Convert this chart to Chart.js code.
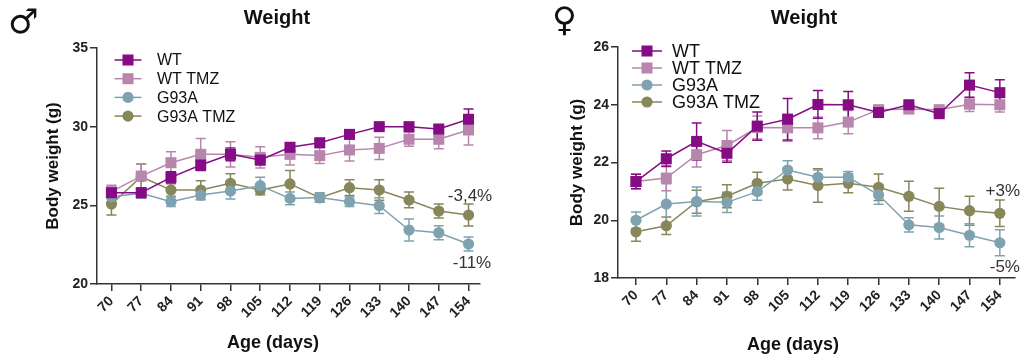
<!DOCTYPE html>
<html><head><meta charset="utf-8">
<script src="https://cdn.jsdelivr.net/npm/chart.js@4"></script>
<style>
html,body{margin:0;padding:0;background:#fff;}
#wrap{position:relative;width:1024px;height:357px;overflow:hidden;background:#fff;}
.c{position:absolute;top:0;width:512px;height:357px;}
.sym{position:absolute;font-family:"DejaVu Sans",sans-serif;color:#111;line-height:1;}
</style></head><body>
<div id="wrap">
<div class="c" style="left:0"><canvas id="male" width="512" height="357"></canvas></div>
<div class="c" style="left:512px"><canvas id="female" width="512" height="357"></canvas></div>
<span class="sym" style="left:8px;top:4px;font-size:34px">♂</span>
<span class="sym" style="left:552px;top:2px;font-size:34px">♀</span>
</div>
<script>
// ---- data ----
const days = [70, 77, 84, 91, 98, 105, 112, 119, 126, 133, 140, 147, 154];
const seriesNames = ['WT', 'WT TMZ', 'G93A', 'G93A TMZ'];

const maleWT       = [25.8, 25.8, 26.78, 27.56, 28.24, 27.88, 28.69, 28.98, 29.51, 30.0, 30.0, 29.85, 30.47];
const maleWTErr    = [0.2, 0.3, 0.35, 0.35, 0.4, 0.3, 0.2, 0.15, 0.15, 0.1, 0.1, 0.2, 0.65];
const maleWTTMZ    = [25.87, 26.86, 27.71, 28.24, 28.24, 28.05, 28.24, 28.16, 28.52, 28.62, 29.2, 29.2, 29.79];
const maleWTTMZErr = [0.4, 0.76, 0.7, 1.0, 0.8, 0.68, 0.68, 0.5, 0.7, 0.7, 0.45, 0.6, 0.95];
const maleG93A     = [25.55, 25.76, 25.23, 25.65, 25.91, 26.25, 25.44, 25.5, 25.23, 24.98, 23.43, 23.26, 22.54];
const maleG93AErr  = [0.4, 0.3, 0.3, 0.3, 0.5, 0.53, 0.4, 0.3, 0.3, 0.5, 0.7, 0.45, 0.45];
const maleG93ATMZ    = [25.08, 26.82, 25.97, 25.97, 26.4, 25.97, 26.36, 25.48, 26.12, 25.97, 25.34, 24.64, 24.38];
const maleG93ATMZErr = [0.7, 0.8, 0.4, 0.6, 0.6, 0.3, 0.85, 0.25, 0.5, 0.65, 0.5, 0.45, 0.7];

const femaleWT       = [21.34, 22.13, 22.73, 22.32, 23.26, 23.5, 24.01, 24.0, 23.73, 24.0, 23.69, 24.68, 24.42];
const femaleWTErr    = [0.25, 0.27, 0.64, 0.31, 0.49, 0.72, 0.48, 0.46, 0.1, 0.1, 0.1, 0.43, 0.45];
const femaleWTTMZ    = [21.34, 21.46, 22.27, 22.59, 23.21, 23.2, 23.2, 23.4, 23.83, 23.85, 23.83, 24.02, 24.0];
const femaleWTTMZErr = [0.25, 0.44, 0.43, 0.52, 0.4, 0.46, 0.38, 0.4, 0.1, 0.1, 0.1, 0.25, 0.25];
const femaleG93A     = [20.0, 20.56, 20.65, 20.62, 20.99, 21.74, 21.49, 21.49, 20.88, 19.84, 19.75, 19.48, 19.22];
const femaleG93AErr  = [0.29, 0.7, 0.5, 0.35, 0.3, 0.32, 0.25, 0.2, 0.33, 0.25, 0.4, 0.4, 0.45];
const femaleG93ATMZ    = [19.6, 19.81, 20.64, 20.83, 21.28, 21.43, 21.2, 21.28, 21.14, 20.83, 20.48, 20.33, 20.24];
const femaleG93ATMZErr = [0.33, 0.3, 0.4, 0.4, 0.38, 0.38, 0.58, 0.33, 0.46, 0.52, 0.63, 0.5, 0.46];

const maleNoteTexts = ['-3,4%', '-11%'];
const femaleNoteTexts = ['+3%', '-5%'];
const chartTitle = 'Weight';
const yTitle = 'Body weight (g)';
const xTitle = 'Age (days)';

// ---- style ----
const FONT = '"Liberation Sans", Arial, sans-serif';
const colors = ['#850c85', '#b886ad', '#7fa2b1', '#87875a'];
const styles = ['rect', 'rect', 'circle', 'circle'];

function makeDatasets(vals, errs) {
  return vals.map((v, i) => ({
    label: seriesNames[i],
    data: days.map((d, j) => ({x: d, y: v[j]})),
    errors: errs[i],
    borderColor: colors[i],
    backgroundColor: colors[i],
    pointBackgroundColor: colors[i],
    pointBorderColor: colors[i],
    pointStyle: styles[i],
    pointRadius: styles[i] === 'rect' ? 7.8 : 5.6,
    pointHoverRadius: styles[i] === 'rect' ? 7.8 : 5.6,
    pointBorderWidth: 0,
    borderWidth: 1.5,
    tension: 0,
    fill: false
  }));
}

function drawMarker(ctx, style, r, cx, cy, color) {
  ctx.fillStyle = color;
  if (style === 'rect') {
    const s = Math.SQRT1_2 * r;
    ctx.fillRect(cx - s, cy - s, 2 * s, 2 * s);
  } else {
    ctx.beginPath(); ctx.arc(cx, cy, r, 0, Math.PI * 2); ctx.fill();
  }
}

const errorBars = {
  id: 'errorBars',
  beforeDatasetsDraw(chart) {
    const {ctx, scales: {x, y}} = chart;
    ctx.save();
    const dss = chart.data.datasets;
    for (let i = dss.length - 1; i >= 0; i--) {
      const ds = dss[i];
      ctx.strokeStyle = ds.borderColor;
      ctx.lineWidth = 1.5;
      ds.data.forEach((p, j) => {
        const e = ds.errors[j];
        const px = x.getPixelForValue(p.x);
        const y1 = y.getPixelForValue(p.y + e), y2 = y.getPixelForValue(p.y - e);
        ctx.beginPath();
        ctx.moveTo(px, y1); ctx.lineTo(px, y2);
        ctx.moveTo(px - 5, y1); ctx.lineTo(px + 5, y1);
        ctx.moveTo(px - 5, y2); ctx.lineTo(px + 5, y2);
        ctx.stroke();
      });
    }
    ctx.restore();
  }
};

const decor = {
  id: 'decor',
  afterDraw(chart, args, o) {
    const {ctx, chartArea: ca, scales: {x, y}} = chart;
    ctx.save();
    ctx.textBaseline = 'middle';
    ctx.textAlign = 'center';
    ctx.fillStyle = '#111';
    ctx.font = `bold 20px ${FONT}`;
    ctx.fillText(chartTitle, ca.left + o.titleDX, o.titleY);
    ctx.font = `bold 18px ${FONT}`;
    ctx.fillText(xTitle, ca.left + o.xTitleDX, o.xTitleY);
    // legend
    chart.data.datasets.forEach((ds, i) => {
      const cy = ca.top + o.legY + i * o.legRow;
      const cx = ca.left + o.legX;
      ctx.strokeStyle = ds.borderColor; ctx.lineWidth = 1.5;
      ctx.beginPath(); ctx.moveTo(cx - o.legLine / 2, cy); ctx.lineTo(cx + o.legLine / 2, cy); ctx.stroke();
      drawMarker(ctx, ds.pointStyle, ds.pointRadius, cx, cy, ds.borderColor);
      ctx.fillStyle = '#111';
      ctx.textAlign = 'left';
      ctx.font = `${o.legFont}px ${FONT}`;
      ctx.fillText(ds.label, cx + o.legTextDX, cy + 1);
    });
    // notes
    ctx.font = `17px ${FONT}`;
    ctx.fillStyle = '#333';
    ctx.textAlign = 'center';
    o.notes.forEach(n => {
      const ds = chart.data.datasets[n.series];
      const last = ds.data[ds.data.length - 1];
      ctx.fillText(n.text, x.getPixelForValue(last.x) + n.dx, y.getPixelForValue(last.y) + n.dy);
    });
    ctx.restore();
  }
};

function axisStyle() {
  return {
    grid: {display: true, drawOnChartArea: false, drawTicks: true, tickLength: 7, color: '#333', lineWidth: 1.5},
    border: {display: true, color: '#333', width: 1.5}
  };
}

function makeChart(id, datasets, cfg) {
  return new Chart(document.getElementById(id), {
    type: 'line',
    data: {datasets},
    options: {
      responsive: false,
      animation: false,
      layout: {padding: {left: 0, top: cfg.top, right: cfg.right, bottom: 0}},
      plugins: {
        legend: {display: false},
        tooltip: {enabled: false},
        decor: cfg.decor
      },
      scales: {
        x: Object.assign(axisStyle(), {
          type: 'linear', min: cfg.xmin, max: cfg.xmax,
          afterBuildTicks(s) { s.ticks = days.map(v => ({value: v})); },
          afterFit(s) { s.height = cfg.xh; },
          ticks: {autoSkip: false, minRotation: 45, maxRotation: 45, padding: 2,
            color: '#222', font: {family: FONT, size: 14, weight: 'bold'},
            callback: v => String(v)}
        }),
        y: Object.assign(axisStyle(), {
          min: cfg.ymin, max: cfg.ymax,
          afterFit(s) { s.width = cfg.yw; },
          ticks: {stepSize: cfg.ystep, padding: 2, color: '#222', font: {family: FONT, size: 14, weight: 'bold'}},
          title: {display: true, text: yTitle, color: '#111', font: {family: FONT, size: 17, weight: 'bold'},
            padding: {top: cfg.ytp, bottom: 0}}
        })
      }
    },
    plugins: [errorBars, decor]
  });
}

makeChart('male', makeDatasets([maleWT, maleWTTMZ, maleG93A, maleG93ATMZ],
  [maleWTErr, maleWTTMZErr, maleG93AErr, maleG93ATMZErr]), {
  top: 48, right: 32, xmin: 66.6, xmax: 156.7, xh: 73, ymin: 20, ymax: 35, ystep: 5, yw: 97, ytp: 43,
  decor: {titleDX: 180, titleY: 18, xTitleDX: 176, xTitleY: 343,
    legX: 31, legY: 12, legRow: 18.7, legLine: 27, legTextDX: 29, legFont: 16,
    notes: [{text: maleNoteTexts[0], series: 3, dx: 1.5, dy: -19}, {text: maleNoteTexts[1], series: 2, dx: 3.5, dy: 19}]}
});

makeChart('female', makeDatasets([femaleWT, femaleWTTMZ, femaleG93A, femaleG93ATMZ],
  [femaleWTErr, femaleWTTMZErr, femaleG93AErr, femaleG93ATMZErr]), {
  top: 47, right: 9, xmin: 65.85, xmax: 157.5, xh: 79, ymin: 18, ymax: 26, ystep: 2, yw: 106, ytp: 55,
  decor: {titleDX: 186, titleY: 18, xTitleDX: 175, xTitleY: 345,
    legX: 29, legY: 4, legRow: 17, legLine: 30, legTextDX: 25, legFont: 18,
    notes: [{text: femaleNoteTexts[0], series: 3, dx: 3, dy: -21.6}, {text: femaleNoteTexts[1], series: 2, dx: 5, dy: 25}]}
});
</script>
</body></html>
